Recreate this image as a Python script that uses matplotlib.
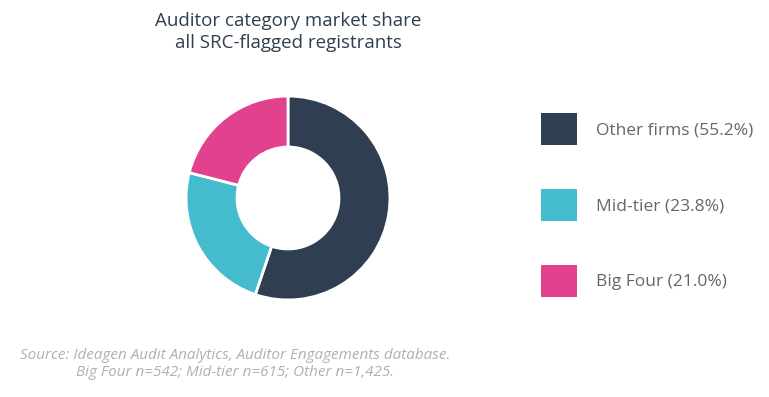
import matplotlib.pyplot as plt
from matplotlib.patches import Patch

labels = ['Other firms', 'Mid-tier', 'Big Four']
shares = [55.2, 23.8, 21.0]
colors = ['#2f3e50', '#44bcce', '#e2418e']

W, H = 769, 397
fig = plt.figure(figsize=(W / 100, H / 100), dpi=100)
plt.rcParams['font.family'] = ['Open Sans', 'DejaVu Sans']

# donut axes placed in pixel terms
cx, cy, r = 288, 198, 104
ax = fig.add_axes([(cx - r) / W, (H - cy - r) / H, 2 * r / W, 2 * r / H])
wedges, _ = ax.pie(shares, colors=colors, startangle=90, counterclock=False,
                   radius=1, wedgeprops=dict(width=0.5, edgecolor='white', linewidth=2))
ax.set_xlim(-1.02, 1.02)
ax.set_ylim(-1.02, 1.02)
ax.set_aspect('equal')
ax.axis('off')

fig.text(cx / W, 1 - 32 / H, 'Auditor category market share\nall SRC-flagged registrants',
         ha='center', va='center', fontsize=13.5, color='#2f3e50', linespacing=1.25)

handles = [Patch(facecolor=c, edgecolor='none') for c in colors]
leg_labels = [f'{l} ({s:.1f}%)' for l, s in zip(labels, shares)]
fig.legend(handles, leg_labels, loc='upper left', bbox_to_anchor=(541 / W, 1 - 113 / H),
           frameon=False, fontsize=12.5, labelcolor='#666666',
           handlelength=2.07, handleheight=2.45, labelspacing=2.53,
           handletextpad=1.1, borderpad=0, borderaxespad=0)

fig.text(235 / W, 1 - 364 / H,
         'Source: Ideagen Audit Analytics, Auditor Engagements database.\n'
         'Big Four n=542; Mid-tier n=615; Other n=1,425.',
         ha='center', va='center', fontsize=11, style='italic', color='#b0b0b0',
         linespacing=1.1)

fig.savefig('out.png', dpi=100)
